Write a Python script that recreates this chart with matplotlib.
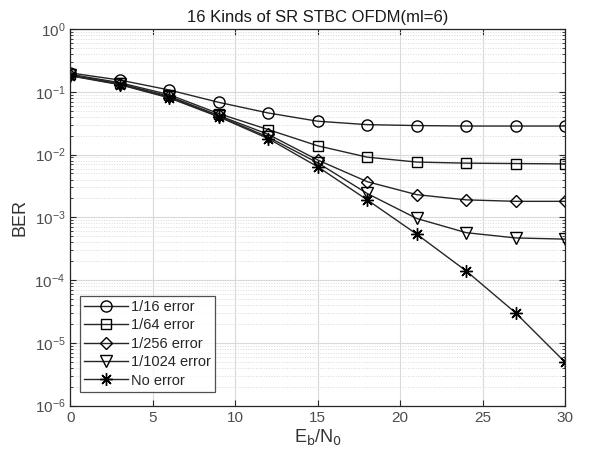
import matplotlib
matplotlib.use("Agg")
import matplotlib.pyplot as plt
import numpy as np

plt.rcParams['font.family'] = ['Liberation Sans', 'DejaVu Sans']

ebn0 = [0, 3, 6, 9, 12, 15, 18, 21, 24, 27, 30]
ber_16 = [0.20, 0.154, 0.107, 0.068, 0.046, 0.034, 0.030, 0.029, 0.0285, 0.0285, 0.0285]
ber_64 = [0.19, 0.14, 0.09, 0.045, 0.025, 0.0138, 0.0091, 0.0076, 0.0073, 0.0072, 0.0071]
ber_256 = [0.185, 0.135, 0.085, 0.042, 0.021, 0.0082, 0.0037, 0.0023, 0.0019, 0.0018, 0.0018]
ber_1024 = [0.182, 0.132, 0.082, 0.041, 0.019, 0.0074, 0.0024, 0.00096, 0.00057, 0.00047, 0.00045]
ber_none = [0.18, 0.13, 0.08, 0.040, 0.018, 0.0064, 0.0019, 0.00054, 0.00014, 3.0e-5, 4.9e-6]

labels = ['1/16 error', '1/64 error', '1/256 error', '1/1024 error', 'No error']
markers = ['o', 's', 'D', 'v', (8, 2, 0)]
sizes = [8, 7, 6.5, 8, 9]

fig = plt.figure(figsize=(5.90, 4.61), dpi=100)
ax = fig.add_axes([0.119, 0.12, 0.839, 0.817])

for y, lab, m, s in zip([ber_16, ber_64, ber_256, ber_1024, ber_none], labels, markers, sizes):
    ax.semilogy(ebn0, y, color='#262626', lw=1.0, marker=m, ms=s,
                mfc='none', mec='black', mew=1.0, label=lab)

ax.set_xlim(0, 30)
ax.set_ylim(1e-6, 1)
ax.set_xticks([0, 5, 10, 15, 20, 25, 30])
ax.grid(True, which='major', color='#d9d9d9', lw=0.8, ls='-')
ax.grid(True, which='minor', color='#d9d9d9', lw=0.7, ls=':')
ax.set_axisbelow(True)
ax.tick_params(which='both', direction='in', top=True, right=True, colors='#262626',
               labelcolor='#4d4d4d', labelsize=11)
ax.tick_params(which='major', length=4)
ax.tick_params(which='minor', length=2)
for sp in ax.spines.values():
    sp.set_color('#262626')
    sp.set_linewidth(0.9)

ax.set_title('16 Kinds of SR STBC OFDM(ml=6)', fontsize=12, color='#1a1a1a', pad=5)
ax.set_xlabel(r'E$_\mathrm{b}$/N$_\mathrm{0}$', fontsize=13, color='#333333', labelpad=2)
ax.set_ylabel('BER', fontsize=13, color='#333333')

leg = ax.legend(loc='lower left', bbox_to_anchor=(0.01, 0.025), fontsize=10.5, frameon=True,
                fancybox=False, edgecolor='#262626', handlelength=3.0,
                borderpad=0.3, labelspacing=0.3, handletextpad=0.2, borderaxespad=0.3)
leg.get_frame().set_linewidth(0.9)
for t in leg.get_texts():
    t.set_color('#262626')

fig.savefig('out.png', dpi=100)
